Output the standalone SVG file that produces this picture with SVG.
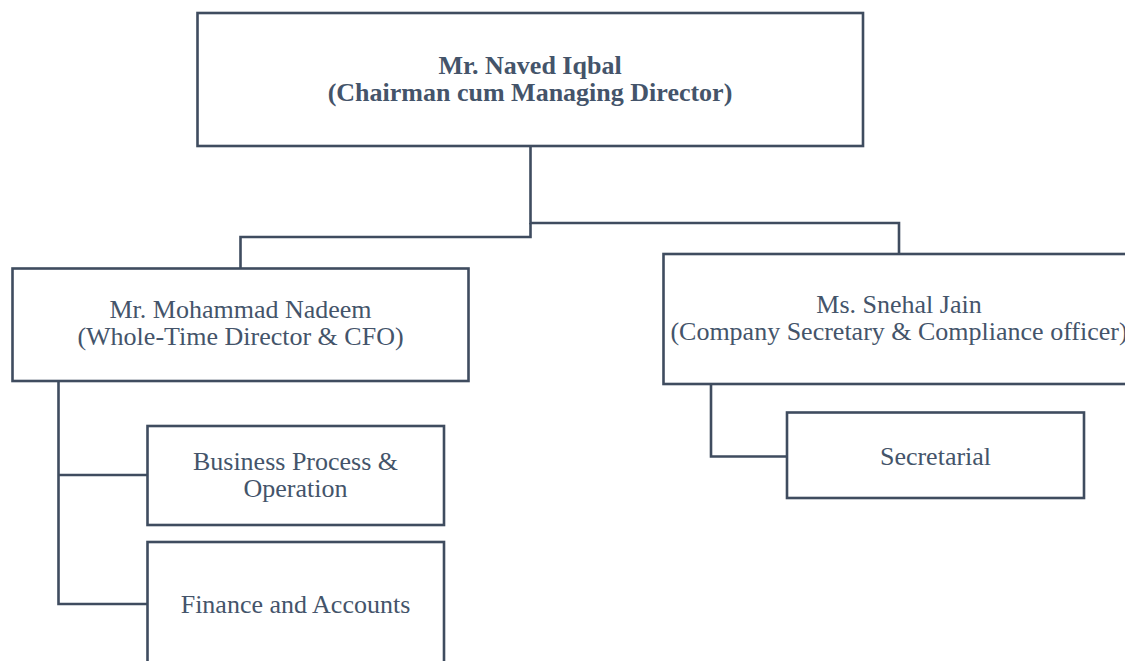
<svg xmlns="http://www.w3.org/2000/svg" width="1125" height="661" viewBox="0 0 1125 661">
<style>
.box{fill:#ffffff;stroke:#3f4c5f;stroke-width:2.6}
.con{fill:none;stroke:#3f4c5f;stroke-width:2.6}
.t{font-size:26px;fill:#44546a;text-anchor:middle}
.b{font-weight:bold}
</style>
<rect width="1125" height="661" fill="#ffffff"/>
<g id="connectors">
<polyline class="con" points="530.5,146 530.5,223 899,223 899,254"/>
<polyline class="con" points="530.5,223 530.5,237 240.5,237 240.5,268"/>
<polyline class="con" points="58.5,381 58.5,604 147,604"/>
<line class="con" x1="58.5" y1="475" x2="147" y2="475"/>
<polyline class="con" points="711,384 711,456.5 787,456.5"/>
</g>
<g font-family="Liberation Serif, Tinos, DejaVu Serif, serif">
<g id="chairman">
<rect class="box" x="197.5" y="13" width="665.5" height="133"/>
<text class="t b" x="530" y="74">Mr. Naved Iqbal</text>
<text class="t b" x="530" y="101">(Chairman cum Managing Director)</text>
</g>
<g id="nadeem">
<rect class="box" x="12.5" y="268.5" width="456" height="112.5"/>
<text class="t" x="240.5" y="318">Mr. Mohammad Nadeem</text>
<text class="t" x="240.5" y="345">(Whole-Time Director &amp; CFO)</text>
</g>
<g id="jain">
<rect class="box" x="663.5" y="254" width="472" height="130"/>
<text class="t" x="899" y="313">Ms. Snehal Jain</text>
<text class="t" x="899" y="340">(Company Secretary &amp; Compliance officer)</text>
</g>
<g id="business">
<rect class="box" x="147.5" y="426" width="296.5" height="99"/>
<text class="t" x="295.5" y="470">Business Process &amp;</text>
<text class="t" x="295.5" y="497">Operation</text>
</g>
<g id="finance">
<rect class="box" x="147.5" y="542" width="296.5" height="126"/>
<text class="t" x="295.5" y="613">Finance and Accounts</text>
</g>
<g id="secretarial">
<rect class="box" x="787" y="412.5" width="297" height="85.5"/>
<text class="t" x="935.5" y="465">Secretarial</text>
</g>
</g>
</svg>
